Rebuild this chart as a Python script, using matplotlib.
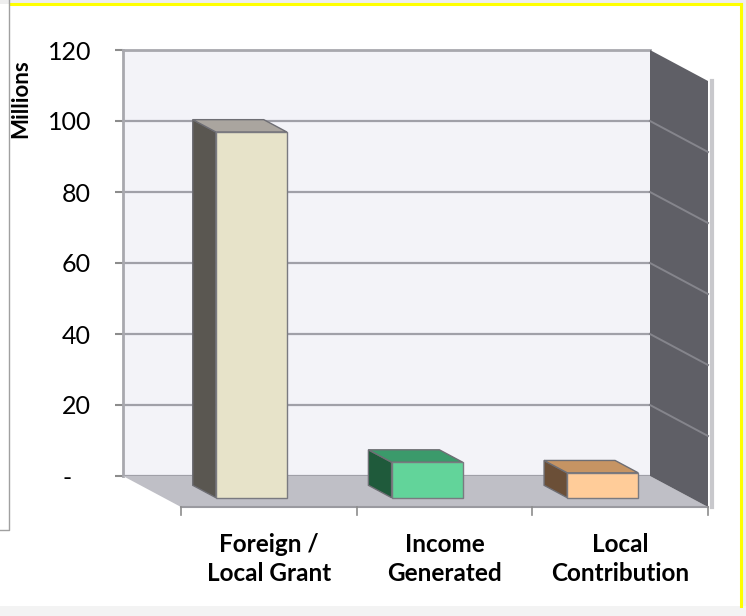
import matplotlib.pyplot as plt
from matplotlib.patches import Polygon, Rectangle

# data (millions)
categories = ['Foreign /\nLocal Grant', 'Income\nGenerated', 'Local\nContribution']
values = [103, 10, 7]
yticks = [0, 20, 40, 60, 80, 100, 120]
yticklabels = ['-   ', '20', '40', '60', '80', '100', '120']

front_colors = ['#e7e3c9', '#62d49a', '#ffcc99']
side_colors = ['#5a5751', '#1f5a3b', '#6b4f37']
top_colors = ['#aaa59f', '#3b9a6b', '#c69463']

W, H = 746, 616
fig = plt.figure(figsize=(W / 100, H / 100), dpi=100)
fig.patch.set_facecolor('white')

# frame decorations (figure pixel coords)
def fx(px): return px / W
def fy(py): return 1 - py / H

fig.add_artist(Rectangle((0, fy(4)), 1, 4 / H, transform=fig.transFigure, color='#eeeeee', lw=0))
fig.add_artist(Rectangle((fx(742), 0), 4 / W, 1, transform=fig.transFigure, color='#eeeeee', lw=0))
fig.add_artist(Rectangle((0, 0), 1, 10 / H, transform=fig.transFigure, color='#f3f3f3', lw=0))
fig.add_artist(plt.Line2D([fx(10), fx(741)], [fy(4), fy(4)], transform=fig.transFigure, color='#ffff00', lw=2.2))
fig.add_artist(plt.Line2D([fx(741), fx(741)], [fy(4), fy(606)], transform=fig.transFigure, color='#ffff00', lw=2.2))
fig.add_artist(plt.Line2D([fx(9), fx(9), fx(0)], [fy(0), fy(530), fy(530)], transform=fig.transFigure, color='#a0a0a0', lw=1))

# back wall axes
ax = fig.add_axes([fx(123), fy(476), 527 / W, 426 / H])
ax.set_xlim(0, 3)
ax.set_ylim(0, 120)
ax.set_facecolor('#f3f3f8')
for s in ['right', 'bottom']:
    ax.spines[s].set_visible(False)
for s in ['left', 'top']:
    ax.spines[s].set_color('#a8a8ae')
    ax.spines[s].set_linewidth(2)
ax.set_xticks([])
ax.set_yticks(yticks)
ax.set_yticklabels(yticklabels, fontsize=18, fontfamily='Lato')
ax.tick_params(axis='y', length=6, width=1.5, color='#8c8c8c', pad=17)
ax.yaxis.grid(True, color='#a0a0a8', lw=1.6)
ax.set_axisbelow(True)
ax.set_ylabel('Millions', fontsize=16, fontweight='bold', fontfamily='Lato')
ax.yaxis.set_label_coords(-0.174, 0.885)

# oblique depth shift (category units, value units)
DX = 58 / (527 / 3)
DY = 31 / (426 / 120)

def proj(x, y, d):
    return (x + d * DX, y - d * DY)

def poly(pts, color, z, ec='none'):
    ax.add_patch(Polygon([proj(*p) for p in pts], closed=True, facecolor=color,
                         edgecolor=ec, lw=1, zorder=z, clip_on=False))

# floor and right wall
poly([(0, 0, 0), (3, 0, 0), (3, 0, 1), (0, 0, 1)], '#bfbfc6', 3)
poly([(3, 120, 0), (3, 120, 1), (3, 0, 1), (3, 0, 0)], '#5f5f66', 3)
for v in yticks[1:-1]:
    a, b = proj(3, v, 0), proj(3, v, 1)
    ax.plot([a[0], b[0]], [a[1], b[1]], color='#85858c', lw=1.4, zorder=4, clip_on=False)
a, b = proj(3, 120, 1), proj(3, 0, 1)
ax.plot([a[0] + 0.02, b[0] + 0.02], [a[1], b[1]], color='#c8c8cc', lw=3, zorder=4, clip_on=False)

# category axis along the floor front
a, b = proj(0, 0, 1), proj(3, 0, 1)
ax.plot([a[0], b[0]], [a[1], b[1]], color='#9a9aa0', lw=1.5, zorder=5, clip_on=False)
for i in range(4):
    p = proj(i, 0, 1)
    ax.plot([p[0], p[0]], [p[1], p[1] - 2.2], color='#8c8c8c', lw=1.2, zorder=5, clip_on=False)

# 3d bars
hw = 71 / (527 / 3) / 2
d0, d1 = 0.3, 0.7
for i, v in enumerate(values):
    c = i + 0.5
    poly([(c - hw, 0, d0), (c - hw, v, d0), (c - hw, v, d1), (c - hw, 0, d1)], side_colors[i], 6, '#6e6e74')
    poly([(c - hw, v, d0), (c + hw, v, d0), (c + hw, v, d1), (c - hw, v, d1)], top_colors[i], 6, '#6e6e74')
    poly([(c - hw, 0, d1), (c + hw, 0, d1), (c + hw, v, d1), (c - hw, v, d1)], front_colors[i], 7, '#7a7a80')

# category labels
for i, lab in enumerate(categories):
    p = proj(i + 0.5, 0, 1)
    ax.text(p[0], p[1] - 7.4, lab, ha='center', va='top', fontsize=17.5, fontweight='bold',
            fontfamily='Lato', linespacing=1.32, clip_on=False)

fig.savefig('out.png', dpi=100)
